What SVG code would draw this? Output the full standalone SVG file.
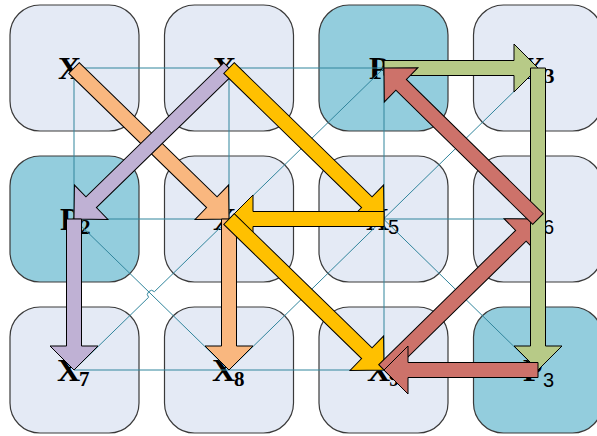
<svg xmlns="http://www.w3.org/2000/svg" width="597" height="436" viewBox="0 0 597 436">
<style>
.box{fill:#E4EAF5;stroke:#3a3a3a;stroke-width:1.2}
.pbox{fill:#93CDDD;stroke:#3a3a3a;stroke-width:1.2}
.lbl{font-family:"Liberation Serif",serif;font-weight:bold;font-size:32px;fill:#000}
.sub{font-size:21px}
.subs{font-family:"Liberation Sans",sans-serif;font-weight:normal;font-size:20px}
.con{stroke:#31859C;stroke-width:1;fill:none}
.arr{stroke:#000;stroke-width:1;stroke-linejoin:miter}
.or{fill:#F9B77F}.pu{fill:#BFB1D4}.ye{fill:#FFC000}.gr{fill:#B7CA87}.re{fill:#CD726A}
</style>
<rect width="597" height="436" fill="#fff"/>
<g id="nodes">
<g id="X1"><rect class="box" x="10" y="5" width="129" height="126" rx="30"/><text class="lbl"><tspan x="58" y="79">X</tspan><tspan class="sub" x="80" y="84">1</tspan></text></g>
<g id="X2"><rect class="box" x="164.5" y="5" width="129" height="126" rx="30"/><text class="lbl"><tspan x="213" y="79">X</tspan><tspan class="sub" x="235" y="84">2</tspan></text></g>
<g id="P1"><rect class="pbox" x="319" y="5" width="129" height="126" rx="30"/><text class="lbl"><tspan x="369" y="79">P</tspan><tspan class="sub" x="389" y="84">1</tspan></text></g>
<g id="X3"><rect class="box" x="473.5" y="5" width="129" height="126" rx="30"/><text class="lbl"><tspan x="522" y="79">X</tspan><tspan class="sub" x="544" y="83">3</tspan></text></g>
<g id="P2"><rect class="pbox" x="10" y="156" width="129" height="126" rx="30"/><text class="lbl"><tspan x="60" y="230">P</tspan><tspan class="sub" x="80" y="234">2</tspan></text></g>
<g id="X4"><rect class="box" x="164.5" y="156" width="129" height="126" rx="30"/><text class="lbl"><tspan x="213" y="230">X</tspan><tspan class="sub" x="235" y="235">4</tspan></text></g>
<g id="X5"><rect class="box" x="319" y="156" width="129" height="126" rx="30"/><text class="lbl"><tspan x="366" y="230">X</tspan><tspan class="subs" x="388" y="234">5</tspan></text></g>
<g id="X6"><rect class="box" x="473.5" y="156" width="129" height="126" rx="30"/><text class="lbl"><tspan x="521" y="230">X</tspan><tspan class="subs" x="543" y="234">6</tspan></text></g>
<g id="X7"><rect class="box" x="10" y="307" width="129" height="126" rx="30"/><text class="lbl"><tspan x="57" y="381">X</tspan><tspan class="sub" x="79" y="386">7</tspan></text></g>
<g id="X8"><rect class="box" x="164.5" y="307" width="129" height="126" rx="30"/><text class="lbl"><tspan x="212" y="381">X</tspan><tspan class="sub" x="234" y="386">8</tspan></text></g>
<g id="X9"><rect class="box" x="319" y="307" width="129" height="126" rx="30"/><text class="lbl"><tspan x="367" y="381">X</tspan><tspan class="sub" x="389" y="386">9</tspan></text></g>
<g id="P3"><rect class="pbox" x="473.5" y="307" width="129" height="126" rx="30"/><text class="lbl"><tspan x="523" y="381">P</tspan><tspan class="subs" x="543" y="387">3</tspan></text></g>
</g>
<g id="connectors">
<path class="con" d="M74,68H538M74,219H538M74,370H538M74,68V370M229,68V370M384,68V370M538,68V370"/>
<path class="con" d="M384,68L154.4,291.7A4,4 0 0 0 148.6,297.3L74,370"/>
<path class="con" d="M74,219L229,370M538,68L229,370M229,68L538,370"/>
</g>
<g id="arrows">
<polygon class="arr or" transform="translate(74,68) rotate(44.25)" points="0,-7.5 192.4,-7.5 192.4,-24 216.4,0 192.4,24 192.4,7.5 0,7.5"/>
<polygon class="arr pu" transform="translate(229,68) rotate(135.75)" points="0,-7.5 192.4,-7.5 192.4,-24 216.4,0 192.4,24 192.4,7.5 0,7.5"/>
<polygon class="arr or" transform="translate(229,219) rotate(90)" points="0,-7.5 127,-7.5 127,-24 151,0 127,24 127,7.5 0,7.5"/>
<polygon class="arr pu" transform="translate(74,219) rotate(90)" points="0,-7.5 127,-7.5 127,-24 151,0 127,24 127,7.5 0,7.5"/>
<polygon class="arr ye" transform="translate(229,68) rotate(44.25)" points="0,-7.5 192.4,-7.5 192.4,-24 216.4,0 192.4,24 192.4,7.5 0,7.5"/>
<polygon class="arr ye" transform="translate(384,219) rotate(180)" points="0,-7.5 131,-7.5 131,-24 155,0 131,24 131,7.5 0,7.5"/>
<polygon class="arr ye" transform="translate(229,219) rotate(44.25)" points="0,-7.5 192.4,-7.5 192.4,-24 216.4,0 192.4,24 192.4,7.5 0,7.5"/>
<polygon class="arr re" transform="translate(384,370) rotate(-44.44)" points="0,-7.5 191.7,-7.5 191.7,-24 215.7,0 191.7,24 191.7,7.5 0,7.5"/>
<polygon class="arr gr" transform="translate(384,68)" points="0,-7.5 130,-7.5 130,-24 154,0 130,24 130,7.5 0,7.5"/>
<polygon class="arr gr" transform="translate(538,68) rotate(90)" points="0,-7.5 278,-7.5 278,-24 302,0 278,24 278,7.5 0,7.5"/>
<polygon class="arr re" transform="translate(538,219) rotate(-135.56)" points="0,-7.5 191.7,-7.5 191.7,-24 215.7,0 191.7,24 191.7,7.5 0,7.5"/>
<polygon class="arr re" transform="translate(538,370) rotate(180)" points="0,-7.5 130,-7.5 130,-24 154,0 130,24 130,7.5 0,7.5"/>
</g>
</svg>
